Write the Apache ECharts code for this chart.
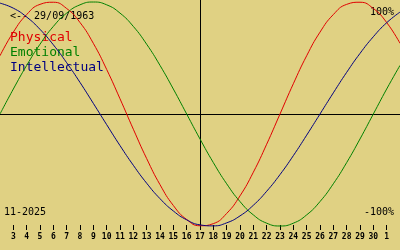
<!DOCTYPE html>
<html>
<head>
<meta charset="utf-8">
<script src="https://cdn.jsdelivr.net/npm/echarts@6/dist/echarts.min.js"></script>
<style>
  html, body { margin: 0; padding: 0; background: #e0d183; }
  #chart { width: 400px; height: 250px; }
</style>
</head>
<body>
<div id="chart"></div>
<script>
// days of the month shown (2 Nov .. 2 Dec, where 32 = 2 Dec)
const days = [2, 3, 4, 5, 6, 7, 8, 9, 10, 11, 12, 13, 14, 15, 16, 17, 18, 19, 20, 21, 22, 23, 24, 25, 26, 27, 28, 29, 30, 31, 32];

// cycle values (-1 .. 1)
const physical = [0.520, 0.731, 0.888, 0.979, 0.998, 0.942, 0.817, 0.631, 0.398, 0.136, -0.136, -0.398, -0.631, -0.817, -0.942, -0.998,
  -0.979, -0.888, -0.731, -0.520, -0.270, 0, 0.270, 0.520, 0.731, 0.888, 0.979, 0.998, 0.942, 0.817, 0.631];
const emotional = [0, 0.223, 0.434, 0.623, 0.782, 0.901, 0.975, 1, 0.975, 0.901, 0.782, 0.623, 0.434, 0.223, 0, -0.223,
  -0.434, -0.623, -0.782, -0.901, -0.975, -1, -0.975, -0.901, -0.782, -0.623, -0.434, -0.223, 0, 0.223, 0.434];
const intellectual = [0.990, 0.945, 0.866, 0.756, 0.618, 0.458, 0.282, 0.095, -0.095, -0.282, -0.458, -0.618, -0.756, -0.866, -0.945, -0.990,
  -0.999, -0.972, -0.910, -0.815, -0.690, -0.541, -0.372, -0.189, 0, 0.189, 0.372, 0.541, 0.690, 0.815, 0.910];

// tick positions and their labels
const tickDays = [3, 4, 5, 6, 7, 8, 9, 10, 11, 12, 13, 14, 15, 16, 17, 18, 19, 20, 21, 22, 23, 24, 25, 26, 27, 28, 29, 30, 31];
const tickLabels = ['3', '4', '5', '6', '7', '8', '9', '10', '11', '12', '13', '14', '15', '16', '17', '18', '19', '20',
  '21', '22', '23', '24', '25', '26', '27', '28', '29', '30', '1'];

const today = 17;
const seriesNames = ['Physical', 'Emotional', 'Intellectual'];
const seriesColors = ['#e00000', '#008000', '#000080'];

const mono = '"DejaVu Sans Mono", "Liberation Mono", monospace';

const chart = echarts.init(document.getElementById('chart'));

const lineSeries = [physical, emotional, intellectual].map((vals, i) => ({
  name: seriesNames[i],
  type: 'line',
  smooth: true,
  showSymbol: false,
  silent: true,
  data: days.map((d, k) => [d, vals[k]]),
  lineStyle: { color: seriesColors[i], width: 1 },
  z: 3
}));

// reference lines: zero and today
lineSeries[0].markLine = {
  silent: true,
  symbol: 'none',
  label: { show: false },
  lineStyle: { color: '#000', width: 1, type: 'solid' },
  data: [{ yAxis: 0 }, { xAxis: today }],
  z: 1
};

chart.setOption({
  backgroundColor: '#e0d183',
  animation: false,
  grid: { left: 0, right: 0, top: 0, height: 228 },
  xAxis: {
    type: 'value',
    min: 2,
    max: 32,
    interval: 1,
    offset: -3,
    splitLine: { show: false },
    axisLine: { show: false, onZero: false },
    axisTick: { show: true, length: 5, lineStyle: { color: '#000' }, customValues: tickDays },
    axisLabel: {
      customValues: tickDays,
      margin: 8,
      fontFamily: mono,
      fontSize: 8,
      fontWeight: 'bold',
      color: '#000',
      formatter: v => tickLabels[tickDays.indexOf(v)] || ''
    }
  },
  yAxis: {
    type: 'value',
    min: -1.018,
    max: 1.018,
    show: false,
    splitLine: { show: false }
  },
  series: lineSeries,
  graphic: [
    { type: 'text', left: 10, top: 11, style: { text: '<-- 29/09/1963', font: '10px ' + mono, fill: '#000' } },
    { type: 'text', left: 10, top: 31, style: { text: 'Physical', font: '13px ' + mono, fill: seriesColors[0] } },
    { type: 'text', left: 10, top: 46, style: { text: 'Emotional', font: '13px ' + mono, fill: seriesColors[1] } },
    { type: 'text', left: 10, top: 61, style: { text: 'Intellectual', font: '13px ' + mono, fill: seriesColors[2] } },
    { type: 'text', right: 6, top: 7, style: { text: '100%', font: '10px ' + mono, fill: '#000' } },
    { type: 'text', right: 6, top: 207, style: { text: '-100%', font: '10px ' + mono, fill: '#000' } },
    { type: 'text', left: 4, top: 207, style: { text: '11-2025', font: '10px ' + mono, fill: '#000' } }
  ]
});
</script>
</body>
</html>
